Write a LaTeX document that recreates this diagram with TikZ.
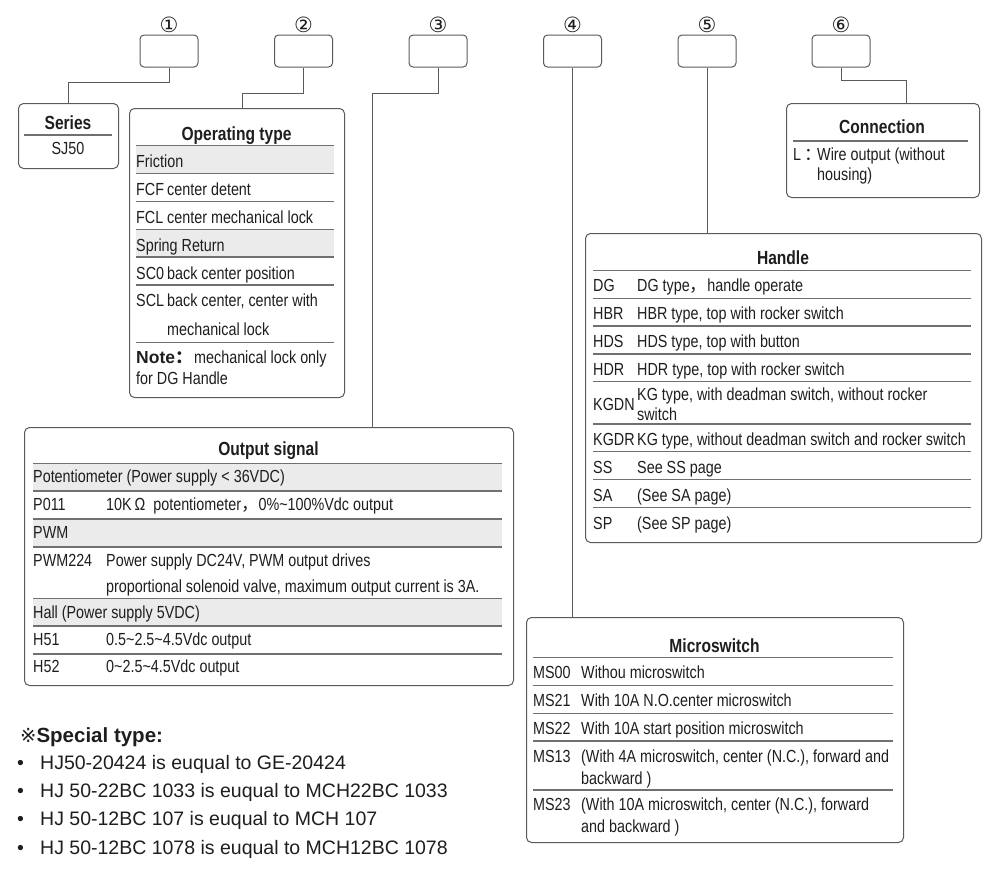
\documentclass[tikz,border=0pt]{standalone}
\usepackage{fontspec}
\setmainfont[FakeStretch=0.82]{Liberation Sans}
\newfontfamily\widefont{Liberation Sans}
\newfontfamily\symfont{DejaVu Sans}
\newfontfamily\cjk{Noto Sans CJK SC}
\usepackage{xcolor}
\usetikzlibrary{positioning,calc}
\definecolor{boxgray}{HTML}{5A5A5A}
\definecolor{rulegray}{HTML}{707070}
\definecolor{rowgray}{HTML}{EBEBEB}
\definecolor{ink}{HTML}{1E1E1E}
\tikzset{
  selbox/.style={draw=boxgray, line width=1pt, rounded corners=4pt, minimum width=58pt, minimum height=32pt, inner sep=0pt},
  num/.style={font=\symfont\fontsize{21}{21}\selectfont, text=ink, inner sep=0pt},
  panel/.style={draw=boxgray, line width=1pt, rounded corners=5pt, anchor=north west, inner sep=0pt},
  wire/.style={draw=boxgray, line width=1pt},
  hrule/.style={draw=rulegray, line width=1.2pt},
  graybar/.style={fill=rowgray},
  title/.style={font=\bfseries\fontsize{19}{19}\selectfont, text=ink, anchor=base, inner sep=0pt, yshift=-7pt},
  cell/.style={font=\fontsize{17.5}{17.5}\selectfont, text=ink, anchor=base west, inner sep=0pt, yshift=-6.3pt},
  bigline/.style={font=\widefont\fontsize{19.5}{19.5}\selectfont, text=ink, anchor=base west, inner sep=0pt, yshift=-7pt},
}
\begin{document}
\begin{tikzpicture}[x=1pt, y=-1pt]
    \useasboundingbox (0,0) rectangle (1000,871);

    % Code positions
    \foreach \x/\n [count=\i] in {169/①, 303.5/②, 438/③, 572.5/④, 707/⑤, 841/⑥} {
        \node[num] (n\i) at (\x,24.5) {\n};
        \node[selbox] (s\i) at (\x,51) {};
    }

    % Panels
    \node[panel, minimum width=100pt, minimum height=65pt] (series) at (18,103) {};
    \node[panel, minimum width=215pt, minimum height=289pt] (optype) at (129,108) {};
    \node[panel, minimum width=489pt, minimum height=258pt] (outsig) at (24,427) {};
    \node[panel, minimum width=377pt, minimum height=225pt] (micro) at (526,617) {};
    \node[panel, minimum width=396pt, minimum height=309pt] (handle) at (585,233) {};
    \node[panel, minimum width=193pt, minimum height=94pt] (conn) at (786,103) {};

    % Connectors
    \draw[wire] (s1.south) -- ++(0,15) -| (series.north);
    \draw[wire] (s2.south) -- ++(0,26) -| ([xshift=5.5pt]optype.north);
    \draw[wire] (s3.south) -- ++(0,26) -| ([xshift=348pt]outsig.north west);
    \draw[wire] (s4.south) -- (s4.south |- micro.north);
    \draw[wire] (s5.south) -- (s5.south |- handle.north);
    \draw[wire] (s6.south) -- ++(0,13) -| ([xshift=120pt]conn.north west);

    % Series
    \node[title] (series-t) at (68,122) {Series};
    \draw[hrule] (24,135) -- (112,135);
    \node[cell, anchor=base] (series-v) at (68,148) {SJ50};

    % Operating type
    \node[title] (optype-t) at (236.5,133) {Operating type};
    \fill[graybar] (136,146) rectangle (334,173);
    \fill[graybar] (136,229.5) rectangle (334,257);
    \foreach \y in {145.7,173.3,201.7,229.3,257,285,342.3}
        \draw[hrule] (136,\y) -- (334,\y);
    \node[cell] (op1) at (136,161) {Friction};
    \node[cell] (op2) at (136,189) {FCF};
    \node[cell] (op2d) at (167,189) {center detent};
    \node[cell] (op3) at (136,217) {FCL};
    \node[cell] (op3d) at (167,217) {center mechanical lock};
    \node[cell] (op4) at (136,245) {Spring Return};
    \node[cell] (op5) at (136,273) {SC0};
    \node[cell] (op5d) at (167,273) {back center position};
    \node[cell] (op6) at (136,300) {SCL};
    \node[cell] (op6d) at (167,300) {back center, center with};
    \node[cell] (op6e) at (167,329) {mechanical lock};
    \node[cell] (note) at (136,357) {\widefont\bfseries Note{\cjk ：}};
    \node[cell] (noted) at (194,357) {mechanical lock only};
    \node[cell] (notee) at (136,378) {for DG Handle};

    % Connection
    \node[title] (conn-t) at (882,126) {Connection};
    \draw[hrule] (793,141) -- (968,141);
    \node[cell] (conn1) at (793,154) {L\,{\cjk ：}};
    \node[cell] (conn1d) at (817,154) {Wire output (without};
    \node[cell] (conn1e) at (817,174) {housing)};

    % Handle
    \node[title] (handle-t) at (783,257) {Handle};
    \foreach \y in {270.7,298.3,326,354,381.7,424,451.7,479.3,507.3}
        \draw[hrule] (593,\y) -- (971,\y);
    \foreach \y/\c/\d [count=\i] in {285.5/DG/{DG type{\cjk ，}handle operate},
            313/HBR/{HBR type, top with rocker switch},
            341/HDS/{HDS type, top with button},
            369/HDR/{HDR type, top with rocker switch},
            439.5/KGDR/{KG type, without deadman switch and rocker switch},
            467/SS/{See SS page},
            495.5/SA/{(See SA page)},
            523/SP/{(See SP page)}} {
        \node[cell] (hd\i) at (593,\y) {\c};
        \node[cell] (hd\i d) at (637,\y) {\d};
    }
    \node[cell] (kgdn) at (593,404) {KGDN};
    \node[cell] (kgdn-d) at (637,394) {KG type, with deadman switch, without rocker};
    \node[cell] (kgdn-e) at (637,414.5) {switch};

    % Output signal
    \node[title] (outsig-t) at (268.5,448) {Output signal};
    \fill[graybar] (33,463.5) rectangle (502,491);
    \fill[graybar] (33,519.5) rectangle (502,547);
    \fill[graybar] (33,598.5) rectangle (502,626);
    \foreach \y in {463.3,491,519,547,598.3,626,654}
        \draw[hrule] (33,\y) -- (502,\y);
    \node[cell] (os1) at (33,476.5) {Potentiometer (Power supply < 36VDC)};
    \node[cell] (os2) at (33,504) {P011};
    \node[cell] (os2d) at (106,504) {10K\,Ω\ \ potentiometer{\cjk ，}0\%\textasciitilde100\%Vdc output};
    \node[cell] (os3) at (33,532) {PWM};
    \node[cell] (os4) at (33,560) {PWM224};
    \node[cell] (os4d) at (106,560) {Power supply DC24V, PWM output drives};
    \node[cell] (os4e) at (106,586) {proportional solenoid valve, maximum output current is 3A.};
    \node[cell] (os5) at (33,612) {Hall (Power supply 5VDC)};
    \node[cell] (os6) at (33,639) {H51};
    \node[cell] (os6d) at (106,639) {0.5\textasciitilde2.5\textasciitilde4.5Vdc output};
    \node[cell] (os7) at (33,666.5) {H52};
    \node[cell] (os7d) at (106,666.5) {0\textasciitilde2.5\textasciitilde4.5Vdc output};

    % Microswitch
    \node[title] (micro-t) at (714.5,645) {Microswitch};
    \foreach \y in {657.7,685.7,713.3,741,790}
        \draw[hrule] (533,\y) -- (893,\y);
    \node[cell] (ms1) at (533,672) {MS00};
    \node[cell] (ms1d) at (581,672) {Withou microswitch};
    \node[cell] (ms2) at (533,700.5) {MS21};
    \node[cell] (ms2d) at (581,700.5) {With 10A N.O.center microswitch};
    \node[cell] (ms3) at (533,728) {MS22};
    \node[cell] (ms3d) at (581,728) {With 10A start position microswitch};
    \node[cell] (ms4) at (533,756.5) {MS13};
    \node[cell] (ms4d) at (581,756.5) {(With 4A microswitch, center (N.C.), forward and};
    \node[cell] (ms4e) at (581,778) {backward )};
    \node[cell] (ms5) at (533,804) {MS23};
    \node[cell] (ms5d) at (581,804) {(With 10A microswitch, center (N.C.), forward};
    \node[cell] (ms5e) at (581,826.5) {and backward )};

    % Special type
    \node[bigline] (sp) at (20,735) {{\symfont ※}\bfseries\fontsize{20.5}{20.5}\selectfont Special type:};
    \foreach \y/\t [count=\i] in {762/HJ50-20424 is euqual to GE-20424,
            790/HJ 50-22BC 1033 is euqual to MCH22BC 1033,
            818.5/HJ 50-12BC 107 is euqual to MCH 107,
            847/HJ 50-12BC 1078 is euqual to MCH12BC 1078} {
        \node[bigline] (b\i) at (17,\y) {\textbullet};
        \node[bigline] (sp\i) at (40,\y) {\t};
    }
\end{tikzpicture}
\end{document}
